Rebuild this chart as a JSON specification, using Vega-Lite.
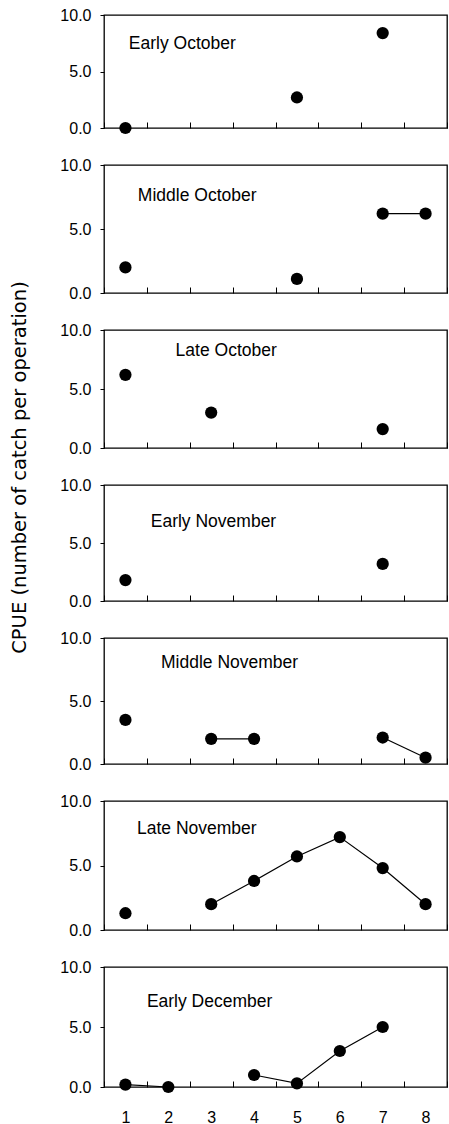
{
  "$schema": "https://vega.github.io/schema/vega-lite/v6.json",
  "padding": {"top": 6, "left": 8, "right": 2, "bottom": 0},
  "background": "white",
  "bounds": "flush",
  "spacing": 37,
  "data": {
    "values": [
      {"period": "Early October", "x": 1, "cpue": 0.0, "run": 1},
      {"period": "Early October", "x": 5, "cpue": 2.7, "run": 2},
      {"period": "Early October", "x": 7, "cpue": 8.4, "run": 3},
      {"period": "Middle October", "x": 1, "cpue": 2.0, "run": 1},
      {"period": "Middle October", "x": 5, "cpue": 1.1, "run": 2},
      {"period": "Middle October", "x": 7, "cpue": 6.2, "run": 3},
      {"period": "Middle October", "x": 8, "cpue": 6.2, "run": 3},
      {"period": "Late October", "x": 1, "cpue": 6.2, "run": 1},
      {"period": "Late October", "x": 3, "cpue": 3.0, "run": 2},
      {"period": "Late October", "x": 7, "cpue": 1.6, "run": 3},
      {"period": "Early November", "x": 1, "cpue": 1.8, "run": 1},
      {"period": "Early November", "x": 7, "cpue": 3.2, "run": 2},
      {"period": "Middle November", "x": 1, "cpue": 3.5, "run": 1},
      {"period": "Middle November", "x": 3, "cpue": 2.0, "run": 2},
      {"period": "Middle November", "x": 4, "cpue": 2.0, "run": 2},
      {"period": "Middle November", "x": 7, "cpue": 2.1, "run": 3},
      {"period": "Middle November", "x": 8, "cpue": 0.5, "run": 3},
      {"period": "Late November", "x": 1, "cpue": 1.3, "run": 1},
      {"period": "Late November", "x": 3, "cpue": 2.0, "run": 2},
      {"period": "Late November", "x": 4, "cpue": 3.8, "run": 2},
      {"period": "Late November", "x": 5, "cpue": 5.7, "run": 2},
      {"period": "Late November", "x": 6, "cpue": 7.2, "run": 2},
      {"period": "Late November", "x": 7, "cpue": 4.8, "run": 2},
      {"period": "Late November", "x": 8, "cpue": 2.0, "run": 2},
      {"period": "Early December", "x": 1, "cpue": 0.2, "run": 1},
      {"period": "Early December", "x": 2, "cpue": 0.0, "run": 1},
      {"period": "Early December", "x": 4, "cpue": 1.0, "run": 2},
      {"period": "Early December", "x": 5, "cpue": 0.3, "run": 2},
      {"period": "Early December", "x": 6, "cpue": 3.0, "run": 2},
      {"period": "Early December", "x": 7, "cpue": 5.0, "run": 2}
    ]
  },
  "resolve": {"scale": {"x": "independent", "y": "independent"}},
  "vconcat": [
    {
      "width": 343, "height": 113,
      "transform": [{"filter": "datum.period === 'Early October'"}],
      "layer": [
        {"mark": {"type": "line", "color": "black", "strokeWidth": 1.2},
         "encoding": {
           "x": {"field": "x", "type": "ordinal", "scale": {"type": "band", "domain": [1, 2, 3, 4, 5, 6, 7, 8], "paddingInner": 0, "paddingOuter": 0}, "axis": {"title": null}},
           "y": {"field": "cpue", "type": "quantitative", "scale": {"domain": [0, 10], "nice": false}, "axis": {"values": [0, 5, 10], "format": ".1f", "title": null}},
           "detail": {"field": "run"}}},
        {"mark": {"type": "point", "filled": true, "color": "black", "opacity": 1, "size": 150},
         "encoding": {"x": {"field": "x", "type": "ordinal"}, "y": {"field": "cpue", "type": "quantitative"}}},
        {"transform": [{"aggregate": [{"op": "count", "as": "n"}], "groupby": ["period"]}],
         "mark": {"type": "text", "align": "left", "baseline": "middle", "font": "Liberation Sans", "fontSize": 17.5, "color": "black"},
         "encoding": {"x": {"datum": 1, "type": "ordinal", "bandPosition": 0.58}, "y": {"datum": 7.45, "type": "quantitative"}, "text": {"field": "period"}}}
      ]
    },
    {
      "width": 343, "height": 128,
      "transform": [{"filter": "datum.period === 'Middle October'"}],
      "layer": [
        {"mark": {"type": "line", "color": "black", "strokeWidth": 1.2},
         "encoding": {
           "x": {"field": "x", "type": "ordinal", "scale": {"type": "band", "domain": [1, 2, 3, 4, 5, 6, 7, 8], "paddingInner": 0, "paddingOuter": 0}, "axis": {"title": null}},
           "y": {"field": "cpue", "type": "quantitative", "scale": {"domain": [0, 10], "nice": false}, "axis": {"values": [0, 5, 10], "format": ".1f", "title": null}},
           "detail": {"field": "run"}}},
        {"mark": {"type": "point", "filled": true, "color": "black", "opacity": 1, "size": 150},
         "encoding": {"x": {"field": "x", "type": "ordinal"}, "y": {"field": "cpue", "type": "quantitative"}}},
        {"transform": [{"aggregate": [{"op": "count", "as": "n"}], "groupby": ["period"]}],
         "mark": {"type": "text", "align": "left", "baseline": "middle", "font": "Liberation Sans", "fontSize": 17.5, "color": "black"},
         "encoding": {"x": {"datum": 1, "type": "ordinal", "bandPosition": 0.79}, "y": {"datum": 7.6, "type": "quantitative"}, "text": {"field": "period"}}}
      ]
    },
    {
      "width": 343, "height": 118,
      "transform": [{"filter": "datum.period === 'Late October'"}],
      "layer": [
        {"mark": {"type": "line", "color": "black", "strokeWidth": 1.2},
         "encoding": {
           "x": {"field": "x", "type": "ordinal", "scale": {"type": "band", "domain": [1, 2, 3, 4, 5, 6, 7, 8], "paddingInner": 0, "paddingOuter": 0}, "axis": {"title": null}},
           "y": {"field": "cpue", "type": "quantitative", "scale": {"domain": [0, 10], "nice": false}, "axis": {"values": [0, 5, 10], "format": ".1f", "title": null}},
           "detail": {"field": "run"}}},
        {"mark": {"type": "point", "filled": true, "color": "black", "opacity": 1, "size": 150},
         "encoding": {"x": {"field": "x", "type": "ordinal"}, "y": {"field": "cpue", "type": "quantitative"}}},
        {"transform": [{"aggregate": [{"op": "count", "as": "n"}], "groupby": ["period"]}],
         "mark": {"type": "text", "align": "left", "baseline": "middle", "font": "Liberation Sans", "fontSize": 17.5, "color": "black"},
         "encoding": {"x": {"datum": 2, "type": "ordinal", "bandPosition": 0.67}, "y": {"datum": 8.2, "type": "quantitative"}, "text": {"field": "period"}}}
      ]
    },
    {
      "width": 343, "height": 116,
      "transform": [{"filter": "datum.period === 'Early November'"}],
      "layer": [
        {"mark": {"type": "line", "color": "black", "strokeWidth": 1.2},
         "encoding": {
           "x": {"field": "x", "type": "ordinal", "scale": {"type": "band", "domain": [1, 2, 3, 4, 5, 6, 7, 8], "paddingInner": 0, "paddingOuter": 0}, "axis": {"title": null}},
           "y": {"field": "cpue", "type": "quantitative", "scale": {"domain": [0, 10], "nice": false}, "axis": {"values": [0, 5, 10], "format": ".1f", "title": "CPUE (number of catch per operation)", "titleX": -85, "titleY": -18, "titleAngle": -90, "titleAlign": "center", "titleBaseline": "middle"}},
           "detail": {"field": "run"}}},
        {"mark": {"type": "point", "filled": true, "color": "black", "opacity": 1, "size": 150},
         "encoding": {"x": {"field": "x", "type": "ordinal"}, "y": {"field": "cpue", "type": "quantitative"}}},
        {"transform": [{"aggregate": [{"op": "count", "as": "n"}], "groupby": ["period"]}],
         "mark": {"type": "text", "align": "left", "baseline": "middle", "font": "Liberation Sans", "fontSize": 17.5, "color": "black"},
         "encoding": {"x": {"datum": 2, "type": "ordinal", "bandPosition": 0.09}, "y": {"datum": 6.8, "type": "quantitative"}, "text": {"field": "period"}}}
      ]
    },
    {
      "width": 343, "height": 126,
      "transform": [{"filter": "datum.period === 'Middle November'"}],
      "layer": [
        {"mark": {"type": "line", "color": "black", "strokeWidth": 1.2},
         "encoding": {
           "x": {"field": "x", "type": "ordinal", "scale": {"type": "band", "domain": [1, 2, 3, 4, 5, 6, 7, 8], "paddingInner": 0, "paddingOuter": 0}, "axis": {"title": null}},
           "y": {"field": "cpue", "type": "quantitative", "scale": {"domain": [0, 10], "nice": false}, "axis": {"values": [0, 5, 10], "format": ".1f", "title": null}},
           "detail": {"field": "run"}}},
        {"mark": {"type": "point", "filled": true, "color": "black", "opacity": 1, "size": 150},
         "encoding": {"x": {"field": "x", "type": "ordinal"}, "y": {"field": "cpue", "type": "quantitative"}}},
        {"transform": [{"aggregate": [{"op": "count", "as": "n"}], "groupby": ["period"]}],
         "mark": {"type": "text", "align": "left", "baseline": "middle", "font": "Liberation Sans", "fontSize": 17.5, "color": "black"},
         "encoding": {"x": {"datum": 2, "type": "ordinal", "bandPosition": 0.33}, "y": {"datum": 8.0, "type": "quantitative"}, "text": {"field": "period"}}}
      ]
    },
    {
      "width": 343, "height": 129,
      "transform": [{"filter": "datum.period === 'Late November'"}],
      "layer": [
        {"mark": {"type": "line", "color": "black", "strokeWidth": 1.2},
         "encoding": {
           "x": {"field": "x", "type": "ordinal", "scale": {"type": "band", "domain": [1, 2, 3, 4, 5, 6, 7, 8], "paddingInner": 0, "paddingOuter": 0}, "axis": {"title": null}},
           "y": {"field": "cpue", "type": "quantitative", "scale": {"domain": [0, 10], "nice": false}, "axis": {"values": [0, 5, 10], "format": ".1f", "title": null}},
           "detail": {"field": "run"}}},
        {"mark": {"type": "point", "filled": true, "color": "black", "opacity": 1, "size": 150},
         "encoding": {"x": {"field": "x", "type": "ordinal"}, "y": {"field": "cpue", "type": "quantitative"}}},
        {"transform": [{"aggregate": [{"op": "count", "as": "n"}], "groupby": ["period"]}],
         "mark": {"type": "text", "align": "left", "baseline": "middle", "font": "Liberation Sans", "fontSize": 17.5, "color": "black"},
         "encoding": {"x": {"datum": 1, "type": "ordinal", "bandPosition": 0.77}, "y": {"datum": 7.8, "type": "quantitative"}, "text": {"field": "period"}}}
      ]
    },
    {
      "width": 343, "height": 120,
      "transform": [{"filter": "datum.period === 'Early December'"}],
      "layer": [
        {"mark": {"type": "line", "color": "black", "strokeWidth": 1.2},
         "encoding": {
           "x": {"field": "x", "type": "ordinal", "scale": {"type": "band", "domain": [1, 2, 3, 4, 5, 6, 7, 8], "paddingInner": 0, "paddingOuter": 0}, "axis": {"title": null, "labels": true}},
           "y": {"field": "cpue", "type": "quantitative", "scale": {"domain": [0, 10], "nice": false}, "axis": {"values": [0, 5, 10], "format": ".1f", "title": null}},
           "detail": {"field": "run"}}},
        {"mark": {"type": "point", "filled": true, "color": "black", "opacity": 1, "size": 150},
         "encoding": {"x": {"field": "x", "type": "ordinal"}, "y": {"field": "cpue", "type": "quantitative"}}},
        {"transform": [{"aggregate": [{"op": "count", "as": "n"}], "groupby": ["period"]}],
         "mark": {"type": "text", "align": "left", "baseline": "middle", "font": "Liberation Sans", "fontSize": 17.5, "color": "black"},
         "encoding": {"x": {"datum": 2, "type": "ordinal", "bandPosition": 0.0}, "y": {"datum": 7.1, "type": "quantitative"}, "text": {"field": "period"}}}
      ]
    }
  ],
  "config": {
    "view": {"stroke": "black", "strokeWidth": 1.3, "fill": "white"},
    "axis": {
      "domain": false, "grid": false,
      "tickColor": "black", "tickWidth": 1,
      "labelFont": "Liberation Sans", "labelFontSize": 16, "labelColor": "black",
      "titleFont": "DejaVu Sans", "titleFontSize": 19.5, "titleFontWeight": "normal", "titleColor": "black"
    },
    "axisX": {"labels": false, "tickBand": "extent", "tickSize": 6, "offset": -6, "labelAngle": 0, "labelPadding": 22},
    "axisY": {"tickSize": 4, "labelPadding": 9}
  }
}
